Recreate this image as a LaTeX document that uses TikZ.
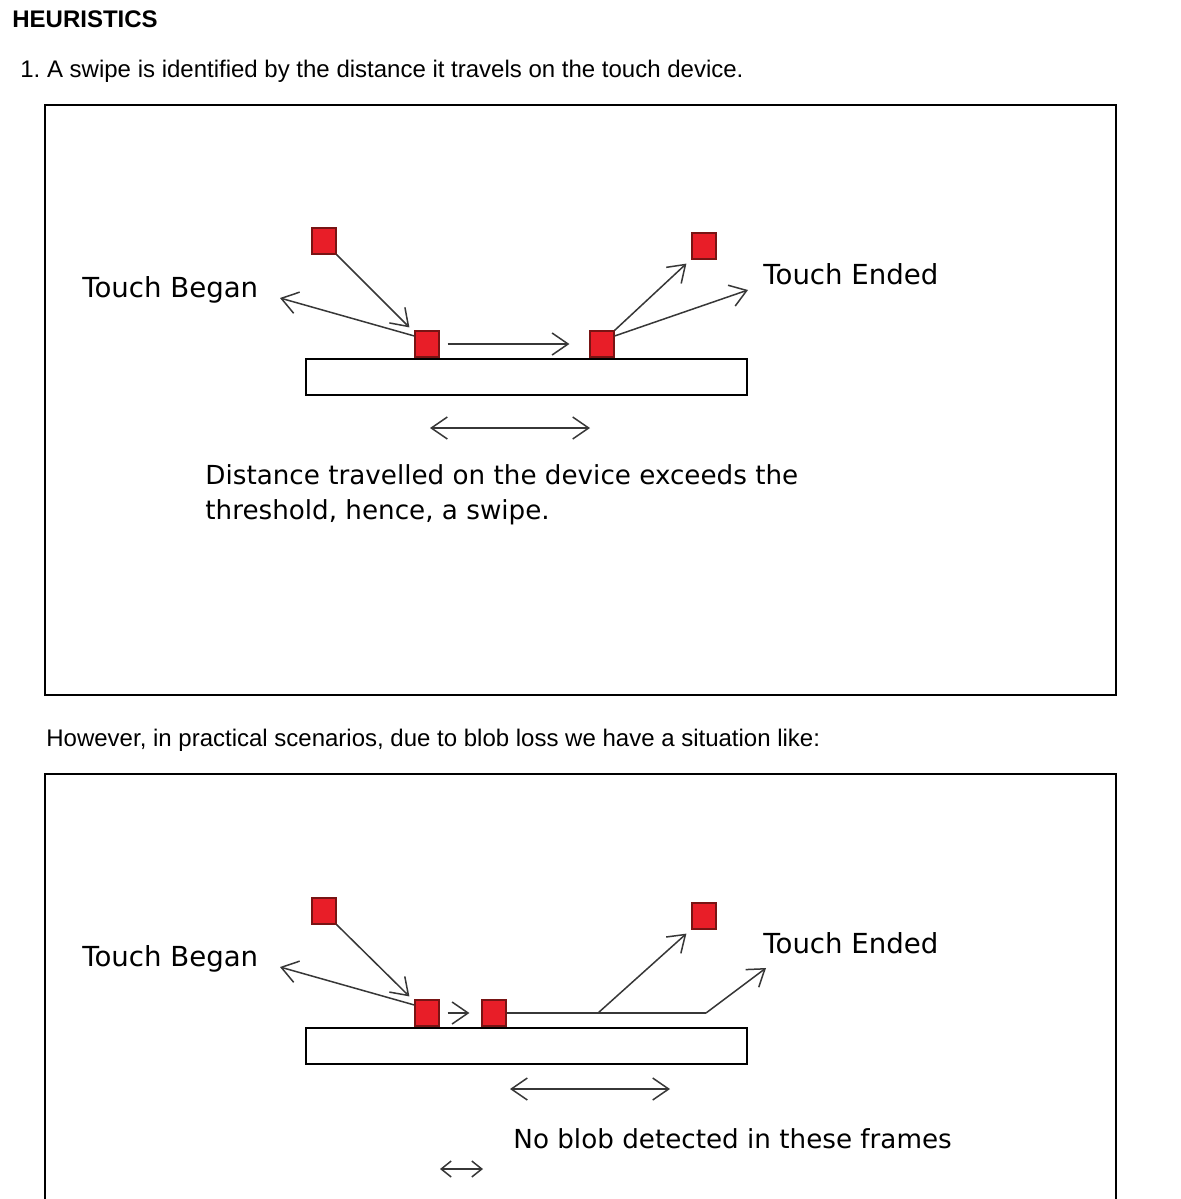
\documentclass[tikz,border=0pt]{standalone}
\usepackage{fontspec}
\setmainfont{Liberation Sans}
\newfontfamily\figfont{DejaVu Sans}
\usetikzlibrary{arrows.meta}

\definecolor{blobred}{RGB}{232,30,40}
\definecolor{blobedge}{RGB}{120,20,20}
\definecolor{pengray}{RGB}{55,55,55}

\tikzset{
  blob/.style={draw=blobedge,fill=blobred,line width=0.6pt,inner sep=0pt,minimum width=12pt,minimum height=13pt},
  move/.style={draw=pengray,line width=0.75pt,-{Straight Barb[length=8pt,width=11pt,line width=0.75pt]}},
  span/.style={draw=pengray,line width=0.75pt,{Straight Barb[length=8pt,width=11pt,line width=0.75pt]}-{Straight Barb[length=8pt,width=11pt,line width=0.75pt]}},
  small span/.style={draw=pengray,line width=0.75pt,{Straight Barb[length=5pt,width=8pt,line width=0.75pt]}-{Straight Barb[length=5pt,width=8pt,line width=0.75pt]}},
  figtext/.style={font=\figfont\fontsize{13.8}{17.5}\selectfont,inner sep=0pt,anchor=west,align=left},
  notetext/.style={figtext,font=\figfont\fontsize{13.1}{17.5}\selectfont},
  pagetext/.style={font=\fontsize{12}{14}\selectfont,inner sep=0pt,anchor=west},
  frame/.style={draw=black,line width=0.8pt}
}

\begin{document}
\begin{tikzpicture}[x=0.5pt,y=0.5pt,yscale=-1]
			\useasboundingbox[fill=white] (0,0) rectangle (1180,1199);

			\node[pagetext,font=\bfseries\fontsize{12}{14}\selectfont] (title) at (12,19) {HEURISTICS};
			\node[pagetext] (rule) at (20,71) {1.\ A swipe is identified by the distance it travels on the touch device.};
			\node[pagetext] (however) at (46,740) {However, in practical scenarios, due to blob loss we have a situation like:};

			\draw[frame] (45,105) rectangle (1116,695);
			\draw[frame] (45,1199) -- (45,774) -- (1116,774) -- (1116,1199);

			\draw[draw=black,line width=0.7pt] (306,359) rectangle (747,395);
			\node[blob] (startA) at (324,241) {};
			\node[blob] (downA) at (427,344) {};
			\node[blob] (upA) at (602,344) {};
			\node[blob] (endA) at (704,246) {};
			\coordinate (beganA) at (280,298);
			\coordinate (endedA) at (748,290);
			\draw[move] (startA.south east) -- ([shift={(-5,-3)}]downA.north west);
			\draw[move] ([yshift=-4]downA.west) -- (beganA);
			\draw[move] ([xshift=4]downA.east) -- ([xshift=-10]upA.west);
			\draw[move] (upA.north east) -- ([shift={(-5,4)}]endA.south west);
			\draw[move] ([yshift=-4]upA.east) -- (endedA);
			\coordinate (spanAl) at (430,428);
			\coordinate (spanAr) at (590,428);
			\draw[span] (spanAl) -- (spanAr);
			\node[figtext] (beganlabelA) at (82,290) {Touch Began};
			\node[figtext] (endedlabelA) at (763,274) {Touch Ended};
			\node[notetext,anchor=north west] (noteA) at (205,464) {Distance travelled on the device exceeds the\\threshold, hence, a swipe.};

			\draw[draw=black,line width=0.7pt] (306,1028) rectangle (747,1064);
			\node[blob] (startB) at (324,911) {};
			\node[blob] (downB) at (427,1013) {};
			\node[blob] (lostB) at (494,1013) {};
			\node[blob] (endB) at (704,916) {};
			\coordinate (beganB) at (280,967);
			\coordinate (liftB) at (598,1013);
			\coordinate (cornerB) at (706,1013);
			\coordinate (endedB) at (766,968);
			\draw[move] (startB.south east) -- ([shift={(-5,-3)}]downB.north west);
			\draw[move] ([yshift=-4]downB.west) -- (beganB);
			\draw[move] ([xshift=4]downB.east) -- ([xshift=-6]lostB.west);
			\draw[draw=pengray,line width=0.75pt] (lostB.east) -- (cornerB);
			\draw[move] (liftB) -- ([shift={(-5,4)}]endB.south west);
			\draw[move] (cornerB) -- (endedB);
			\coordinate (spanBl) at (510,1089);
			\coordinate (spanBr) at (670,1089);
			\draw[span] (spanBl) -- (spanBr);
			\coordinate (gapBl) at (440,1169);
			\coordinate (gapBr) at (483,1169);
			\draw[small span] (gapBl) -- (gapBr);
			\node[figtext] (beganlabelB) at (82,959) {Touch Began};
			\node[figtext] (endedlabelB) at (763,943) {Touch Ended};
			\node[notetext] (noteB) at (513,1139) {No blob detected in these frames};
\end{tikzpicture}
\end{document}
